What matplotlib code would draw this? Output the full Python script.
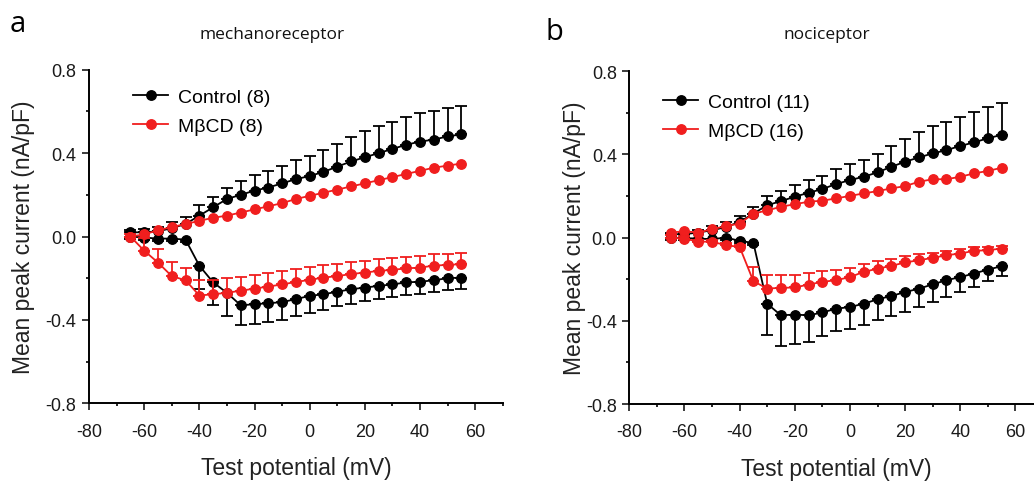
import matplotlib
matplotlib.use("Agg")
import matplotlib.pyplot as plt
import numpy as np

plt.rcParams['font.family'] = ['Liberation Sans', 'DejaVu Sans']
plt.rcParams['axes.unicode_minus'] = False

RED = '#f01e1e'
BLACK = '#000000'

# test potentials (mV)
volts = [-65, -60, -55, -50, -45, -40, -35, -30, -25, -20, -15, -10, -5,
         0, 5, 10, 15, 20, 25, 30, 35, 40, 45, 50, 55]

# ---- panel a: mechanoreceptor ----
a_ctrl_out = [0.02, 0.02, 0.025, 0.04, 0.06, 0.10, 0.14, 0.18, 0.20, 0.22, 0.235, 0.255, 0.275,
              0.29, 0.31, 0.335, 0.36, 0.38, 0.40, 0.42, 0.44, 0.455, 0.465, 0.48, 0.49]
a_ctrl_out_err = [0.01, 0.015, 0.02, 0.03, 0.035, 0.05, 0.05, 0.055, 0.065, 0.075, 0.08, 0.085, 0.09,
                  0.097, 0.105, 0.11, 0.115, 0.125, 0.128, 0.13, 0.133, 0.136, 0.136, 0.137, 0.137]
a_mbcd_out = [0.0, 0.01, 0.03, 0.045, 0.06, 0.075, 0.09, 0.10, 0.115, 0.13, 0.145, 0.16, 0.18,
              0.195, 0.21, 0.225, 0.24, 0.255, 0.27, 0.285, 0.30, 0.315, 0.33, 0.34, 0.35]
a_ctrl_in = [0.0, -0.005, -0.01, -0.01, -0.015, -0.14, -0.22, -0.27, -0.33, -0.325, -0.32, -0.315, -0.30,
             -0.285, -0.277, -0.265, -0.253, -0.245, -0.237, -0.23, -0.22, -0.217, -0.21, -0.20, -0.197]
a_ctrl_in_err = [0.01, 0.01, 0.01, 0.01, 0.01, 0.11, 0.11, 0.11, 0.095, 0.095, 0.09, 0.085, 0.08,
                 0.08, 0.075, 0.07, 0.07, 0.065, 0.065, 0.06, 0.06, 0.06, 0.058, 0.056, 0.055]
a_mbcd_in = [0.0, -0.068, -0.125, -0.19, -0.21, -0.283, -0.277, -0.27, -0.26, -0.25, -0.24, -0.23, -0.218,
             -0.208, -0.197, -0.19, -0.18, -0.173, -0.165, -0.16, -0.153, -0.149, -0.14, -0.136, -0.133]
a_mbcd_in_err = [0.01, 0.06, 0.065, 0.07, 0.06, 0.075, 0.07, 0.07, 0.068, 0.066, 0.065, 0.063, 0.062,
                 0.06, 0.06, 0.058, 0.058, 0.057, 0.056, 0.055, 0.055, 0.054, 0.054, 0.053, 0.053]

# ---- panel b: nociceptor ----
b_ctrl_out = [0.016, 0.016, 0.024, 0.035, 0.05, 0.075, 0.115, 0.155, 0.175, 0.196, 0.215, 0.233, 0.257,
              0.276, 0.292, 0.313, 0.34, 0.364, 0.385, 0.404, 0.42, 0.44, 0.457, 0.477, 0.493]
b_ctrl_out_err = [0.008, 0.01, 0.012, 0.02, 0.025, 0.03, 0.032, 0.045, 0.05, 0.055, 0.06, 0.065, 0.07,
                  0.078, 0.082, 0.09, 0.1, 0.11, 0.12, 0.13, 0.135, 0.14, 0.145, 0.15, 0.155]
b_mbcd_out = [0.024, 0.03, 0.024, 0.04, 0.055, 0.067, 0.115, 0.13, 0.148, 0.16, 0.172, 0.177, 0.188,
              0.2, 0.212, 0.223, 0.236, 0.247, 0.268, 0.28, 0.28, 0.292, 0.308, 0.32, 0.335]
b_ctrl_in = [0.0, -0.003, -0.005, -0.008, 0.0, -0.016, -0.026, -0.318, -0.374, -0.37, -0.374, -0.36, -0.342,
             -0.334, -0.318, -0.297, -0.281, -0.262, -0.246, -0.225, -0.205, -0.19, -0.173, -0.154, -0.138]
b_ctrl_in_err = [0.01, 0.01, 0.01, 0.01, 0.01, 0.01, 0.01, 0.15, 0.145, 0.14, 0.13, 0.114, 0.105,
                 0.105, 0.1, 0.1, 0.097, 0.095, 0.09, 0.085, 0.08, 0.072, 0.065, 0.055, 0.045]
b_mbcd_in = [0.0, -0.005, -0.02, -0.02, -0.037, -0.045, -0.21, -0.245, -0.242, -0.24, -0.226, -0.213, -0.205,
             -0.19, -0.165, -0.15, -0.136, -0.12, -0.109, -0.098, -0.085, -0.077, -0.064, -0.061, -0.053]
b_mbcd_in_err = [0.01, 0.01, 0.01, 0.01, 0.01, 0.01, 0.07, 0.065, 0.06, 0.058, 0.055, 0.05, 0.048,
                 0.045, 0.04, 0.038, 0.035, 0.03, 0.028, 0.025, 0.022, 0.02, 0.018, 0.015, 0.012]

panels = [
    dict(rect=[0.0861, 0.1664, 0.4001, 0.6878], letter='a', letter_xy=(10, 32),
         title='mechanoreceptor', title_xy=(272, 35), ylabelpad=8,
         ctrl_n='Control (8)', mbcd_n='M\u03b2CD (8)', leg_xy=(133, 89),
         ctrl_out=a_ctrl_out, ctrl_out_err=a_ctrl_out_err, mbcd_out=a_mbcd_out,
         ctrl_in=a_ctrl_in, ctrl_in_err=a_ctrl_in_err, mbcd_in=a_mbcd_in, mbcd_in_err=a_mbcd_in_err),
    dict(rect=[0.6086, 0.1649, 0.4001, 0.6866], letter='b', letter_xy=(545, 40),
         title='nociceptor', title_xy=(827, 35), ylabelpad=0,
         ctrl_n='Control (11)', mbcd_n='M\u03b2CD (16)', leg_xy=(663, 94),
         ctrl_out=b_ctrl_out, ctrl_out_err=b_ctrl_out_err, mbcd_out=b_mbcd_out,
         ctrl_in=b_ctrl_in, ctrl_in_err=b_ctrl_in_err, mbcd_in=b_mbcd_in, mbcd_in_err=b_mbcd_in_err),
]

W, H = 1034, 485
fig = plt.figure(figsize=(W / 100, H / 100), dpi=100)

zeros = np.zeros(len(volts))
line_kw = dict(marker='o', markersize=6.8, linewidth=1.3, clip_on=False)
err_kw = dict(fmt='none', elinewidth=1.3, capsize=4, capthick=1.3, clip_on=False)

for p in panels:
    ax = fig.add_axes(p['rect'])

    # control
    ax.errorbar(volts, p['ctrl_out'], yerr=[zeros, p['ctrl_out_err']], ecolor=BLACK, zorder=2, **err_kw)
    ax.errorbar(volts, p['ctrl_in'], yerr=[p['ctrl_in_err'], zeros], ecolor=BLACK, zorder=2, **err_kw)
    h_ctrl, = ax.plot(volts, p['ctrl_out'], color=BLACK, zorder=3, **line_kw)
    ax.plot(volts, p['ctrl_in'], color=BLACK, zorder=3, **line_kw)

    # MbCD
    ax.errorbar(volts, p['mbcd_in'], yerr=[zeros, p['mbcd_in_err']], ecolor=RED, zorder=4, **err_kw)
    h_mbcd, = ax.plot(volts, p['mbcd_out'], color=RED, zorder=5, **line_kw)
    ax.plot(volts, p['mbcd_in'], color=RED, zorder=5, **line_kw)

    ax.set_xlim(-80, 70)
    ax.set_ylim(-0.8, 0.8)
    ax.set_xticks([-80, -60, -40, -20, 0, 20, 40, 60])
    ax.set_xticks(np.arange(-70, 71, 20), minor=True)
    ax.set_yticks([-0.8, -0.4, 0.0, 0.4, 0.8])
    ax.set_yticklabels(['-0.8', '-0.4', '0.0', '0.4', '0.8'])
    ax.set_yticks([-0.6, -0.2, 0.2, 0.6], minor=True)

    for s in ['top', 'right']:
        ax.spines[s].set_visible(False)
    for s in ['left', 'bottom']:
        ax.spines[s].set_linewidth(1.4)
    ax.tick_params(which='major', direction='out', length=5, width=1.2, labelsize=13,
                   colors='#1a1a1a', pad=4)
    ax.tick_params(which='minor', direction='out', length=2.5, width=1.2)
    ax.tick_params(axis='x', which='major', pad=9)

    ax.set_xlabel('Test potential (mV)', fontsize=16.5, color='#222222', labelpad=12)
    ax.set_ylabel('Mean peak current (nA/pF)', fontsize=16.5, color='#222222',
                  labelpad=p['ylabelpad'])

    lx, ly = p['leg_xy']
    ax.legend([h_ctrl, h_mbcd], [p['ctrl_n'], p['mbcd_n']], loc='upper left',
              bbox_to_anchor=(lx / W, 1 - ly / H), bbox_transform=fig.transFigure,
              frameon=False, fontsize=14, handlelength=1.8, handletextpad=0.5,
              labelspacing=0.6, borderaxespad=0, borderpad=0)

    tx, ty = p['letter_xy']
    fig.text(tx / W, 1 - ty / H, p['letter'], fontsize=21, family='Open Sans',
             ha='left', va='baseline')
    cx, cy = p['title_xy']
    fig.text(cx / W, 1 - cy / H, p['title'], fontsize=12.5, family='Open Sans',
             ha='center', va='center', color='#111111')

fig.savefig('out.png', dpi=100)
